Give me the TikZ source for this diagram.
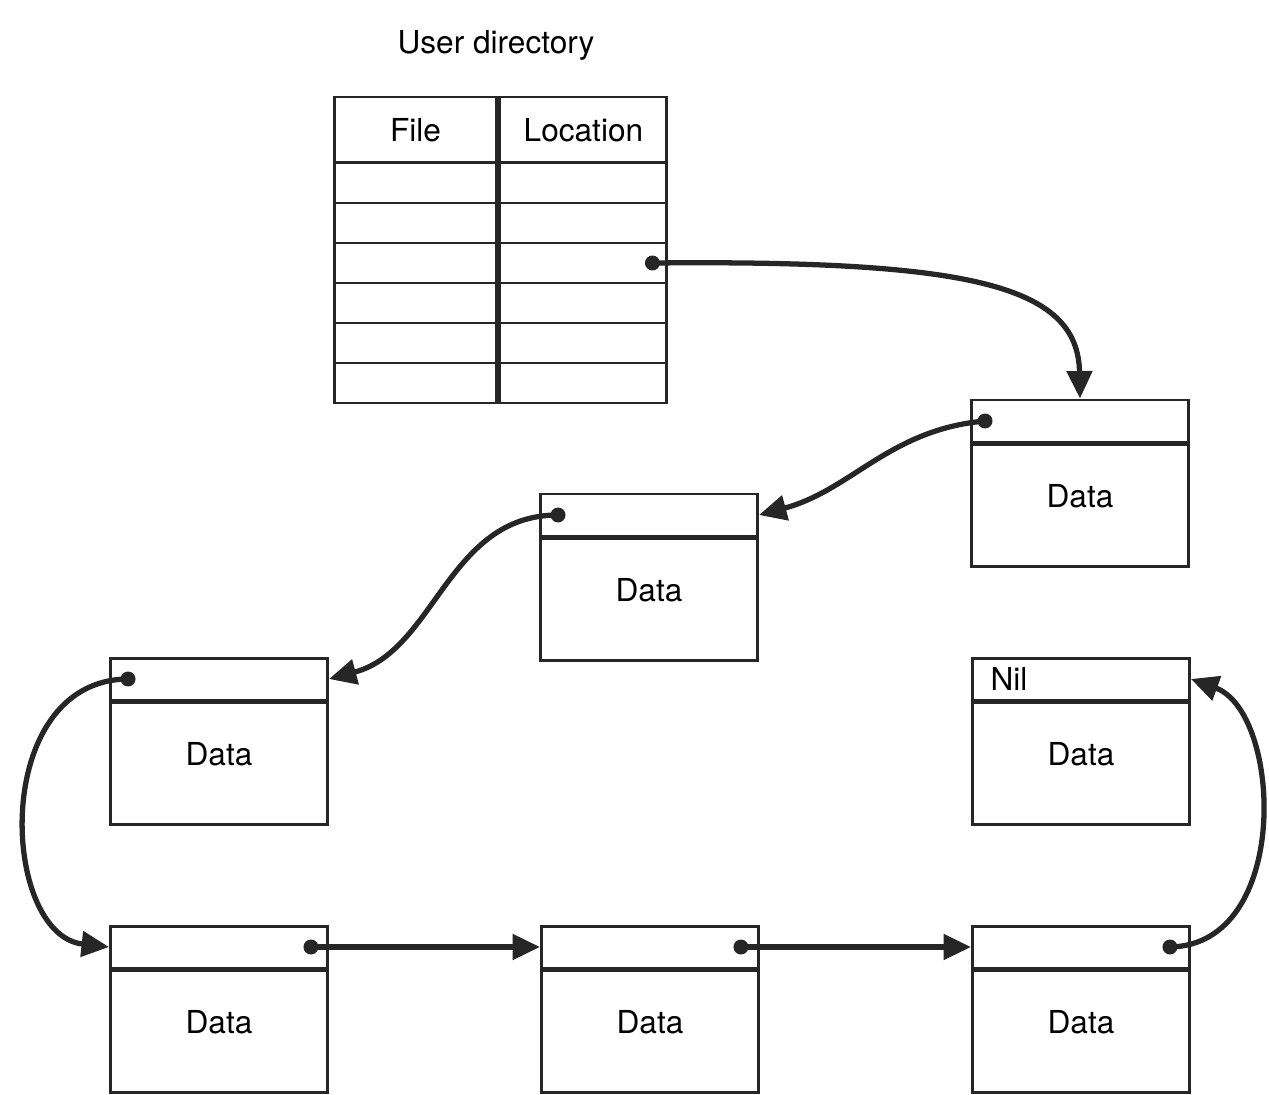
\documentclass[tikz,border=0pt]{standalone}
\usepackage{fontspec}
\setmainfont{TeX Gyre Heros}
\usetikzlibrary{arrows.meta,positioning}

\begin{document}
\begin{tikzpicture}[x=0.02cm, y=-0.02cm,
  font=\fontsize{18}{21}\selectfont,
  ptr/.style={draw=black!85, line width=1.7pt, minimum width=4.34cm, minimum height=0.84cm, inner sep=0pt},
  datbox/.style={draw=black!85, line width=1.7pt, minimum width=4.34cm, minimum height=2.44cm, inner sep=0pt, text depth=0.4cm},
  cell/.style={draw=black!85, line width=1.7pt, minimum height=0.8cm, inner sep=0pt},
  dot/.style={circle, fill=black!85, inner sep=0pt, minimum size=0.3cm},
  link/.style={-{Triangle[length=0.55cm,width=0.5cm]}, line width=3pt, draw=black!85}
]
\useasboundingbox (0,0) rectangle (1269,1095);

% user directory
\node (title) at (496,45) {User directory};
\node[cell, minimum width=3.26cm, minimum height=1.32cm] (file) at (415.5,130) {File};
\node[cell, minimum width=3.34cm, minimum height=1.32cm, right=0pt of file] (loc) {Location};
\foreach \i in {1,...,6} {
  \node[cell, minimum width=3.26cm] (f\i) at (415.5,{143+40*\i}) {};
  \node[cell, minimum width=3.34cm, right=0pt of f\i] (l\i) {};
}

% blocks
\node[ptr] (p1) at (1080,421) {};
\node[datbox, below=0pt of p1] (d1) {Data};
\node[ptr] (p2) at (649,515) {};
\node[datbox, below=0pt of p2] (d2) {Data};
\node[ptr] (p3) at (219,679) {};
\node[datbox, below=0pt of p3] (d3) {Data};
\node[ptr] (p4) at (219,947) {};
\node[datbox, below=0pt of p4] (d4) {Data};
\node[ptr] (p5) at (650,947) {};
\node[datbox, below=0pt of p5] (d5) {Data};
\node[ptr] (p6) at (1081,947) {};
\node[datbox, below=0pt of p6] (d6) {Data};
\node[ptr, inner xsep=0.36cm, text width=3.62cm, align=left] (p7) at (1081,679) {Nil};
\node[datbox, below=0pt of p7] (d7) {Data};

% pointers
\node[dot] (s0) at ([xshift=-0.32cm]l3.east) {};
\node[dot] (s1) at ([xshift=0.3cm]p1.west) {};
\node[dot] (s2) at ([xshift=0.38cm]p2.west) {};
\node[dot] (s3) at ([xshift=0.38cm]p3.west) {};
\node[dot] (s4) at ([xshift=-0.36cm]p4.east) {};
\node[dot] (s5) at ([xshift=-0.38cm]p5.east) {};
\node[dot] (s6) at ([xshift=-0.42cm]p6.east) {};

\draw[link] (s0.center) .. controls (970,260) and (1078,285) .. (p1.north);
\draw[link] (s1.center) to[out=185, in=15] (p2.east);
\draw[link] (s2.center) to[out=180, in=15] (p3.east);
\draw[link] (s3.center) .. controls (-10,680) and (0,935) .. (p4.west);
\draw[link] (s4.center) -- (p5.west);
\draw[link] (s5.center) -- (p6.west);
\draw[link] (s6.center) .. controls (1292,945) and (1282,712) .. (p7.east);
\end{tikzpicture}
\end{document}
